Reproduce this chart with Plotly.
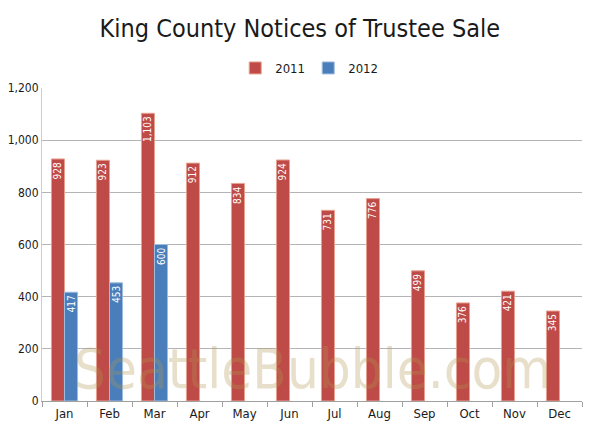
import plotly.graph_objects as go

months = ["Jan", "Feb", "Mar", "Apr", "May", "Jun", "Jul", "Aug", "Sep", "Oct", "Nov", "Dec"]
sales_2011 = [928, 923, 1103, 912, 834, 924, 731, 776, 499, 376, 421, 345]
months_2012 = ["Jan", "Feb", "Mar"]
sales_2012 = [417, 453, 600]

FONT = "DejaVu Sans Condensed"
RED = "#BE4B48"
BLUE = "#4A7EBB"
TXT = "#1a1a1a"

fig = go.Figure()
fig.add_trace(go.Bar(
    name="2011", x=months, y=sales_2011,
    marker=dict(color=RED, line=dict(color="#E8A090", width=1)),
    texttemplate="%{y:,}", textposition="inside", insidetextanchor="end",
    textangle=-90, constraintext="none",
    textfont=dict(family=FONT, size=10, color="white"),
))
fig.add_trace(go.Bar(
    name="2012", x=months_2012, y=sales_2012,
    marker=dict(color=BLUE, line=dict(color="#9DBCE0", width=1)),
    texttemplate="%{y:,}", textposition="inside", insidetextanchor="end",
    textangle=-90, constraintext="none",
    textfont=dict(family=FONT, size=10, color="white"),
))

# page body has an 8px margin at top/left, so the figure is offset by 8px
fig.update_layout(
    width=592, height=428,
    margin=dict(l=34, r=18, t=80, b=35, autoexpand=False),
    paper_bgcolor="white", plot_bgcolor="white",
    barmode="group", bargap=0.42, bargroupgap=0,
    title=dict(text="King County Notices of Trustee Sale", x=0.493, xanchor="center",
               y=1 - 20 / 428, yanchor="middle",
               font=dict(family=FONT, size=25, color=TXT)),
    legend=dict(orientation="h", x=0.493, xanchor="center", y=1 - 60 / 428, yanchor="middle",
                yref="container", font=dict(family=FONT, size=13, color=TXT),
                itemwidth=30, entrywidth=28, entrywidthmode="pixels", traceorder="normal"),
    showlegend=True,
    font=dict(family=FONT, color=TXT),
)
fig.update_xaxes(
    type="category", categoryorder="array", categoryarray=months,
    showline=True, linecolor="#A0A0A0", linewidth=1,
    ticks="outside", tickson="boundaries", ticklen=5, tickcolor="#A0A0A0",
    tickfont=dict(family=FONT, size=13, color=TXT),
    showgrid=False,
)
fig.update_yaxes(
    range=[0, 1200], tickvals=[0, 200, 400, 600, 800, 1000, 1200],
    tickformat=",", showgrid=True, gridcolor="#B4B4B8", gridwidth=1,
    showline=True, linecolor="#D8C4D4", linewidth=1,
    ticks="", zeroline=False,
    tickfont=dict(family=FONT, size=12, color=TXT),
)
fig.add_annotation(
    text="SeattleBubble.com", xref="paper", yref="paper", x=0.5, y=0.105,
    xanchor="center", yanchor="middle", showarrow=False,
    font=dict(family=FONT, size=56, color="rgba(180,150,80,0.3)"),
)
fig.write_html("out.html")
